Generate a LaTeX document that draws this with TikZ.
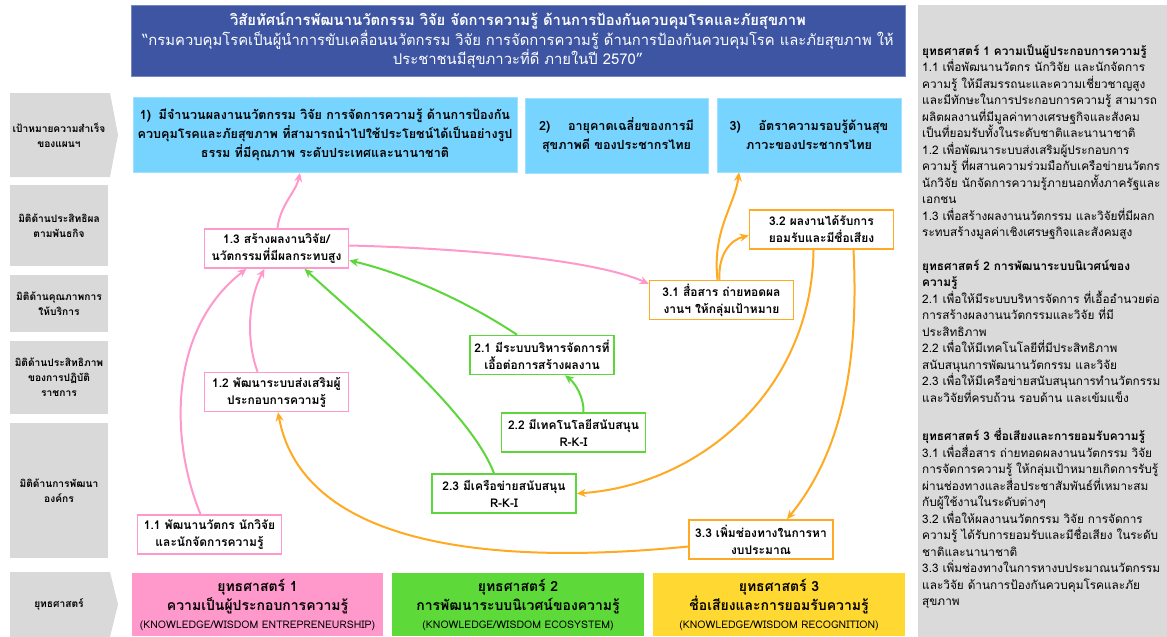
\documentclass[tikz,border=0pt]{standalone}
\usepackage{fontspec}
\setmainfont{Loma}[Script=Thai]
\usetikzlibrary{arrows.meta}

\definecolor{hdrblue}{HTML}{3D55A3}
\definecolor{goalblue}{HTML}{77D4FF}
\definecolor{lgray}{HTML}{D9D9D9}
\definecolor{pgray}{HTML}{DADADA}
\definecolor{pinkc}{HTML}{FF99CC}
\definecolor{greenc}{HTML}{5DD63C}
\definecolor{orangec}{HTML}{FFAA22}
\definecolor{s1fill}{HTML}{FF99CC}
\definecolor{s2fill}{HTML}{5DD93A}
\definecolor{s3fill}{HTML}{FFD932}

\tikzset{
  lbltext/.style={align=center, font=\bfseries\fontsize{10.2}{15}\selectfont, inner sep=0pt},
  lblbox/.style={fill=lgray, minimum width=98pt, lbltext},
  goal/.style={fill=goalblue, draw=goalblue!70!white, line width=0.6pt, align=center,
    font=\bfseries\fontsize{12.6}{19}\selectfont, inner sep=0pt},
  kbox/.style={fill=white, line width=1.5pt, minimum width=144pt, minimum height=39pt,
    align=center, inner sep=0pt, font=\bfseries\fontsize{12}{17}\selectfont},
  pbox/.style={kbox, draw=pinkc},
  gbox/.style={kbox, draw=greenc},
  obox/.style={kbox, draw=orangec},
  link/.style={line width=2pt, -{Stealth[length=9pt,width=8pt]}},
  plink/.style={link, draw=pinkc},
  glink/.style={link, draw=greenc},
  olink/.style={link, draw=orangec},
  strat/.style={minimum height=63pt, align=center, inner sep=0pt,
    font=\bfseries\fontsize{14}{19.5}\selectfont},
}
\newcommand{\engtext}[1]{{\mdseries\fontsize{10.5}{12}\selectfont #1}}

\begin{document}
\begin{tikzpicture}[x=1pt,y=-1pt]
\useasboundingbox (0,0) rectangle (1167,637);
\fill[white] (0,0) rectangle (1167,637);

% vision banner
\node[fill=hdrblue, draw=hdrblue!70!white, line width=0.6pt, minimum width=774pt,
  minimum height=71pt, align=center, text=white, inner sep=0pt,
  font=\fontsize{14.8}{19.8}\selectfont] (vision) at (518,40.5)
  {\textbf{วิสัยทัศน์การพัฒนานวัตกรรม วิจัย จัดการความรู้ ด้านการป้องกันควบคุมโรคและภัยสุขภาพ}\\
   “กรมควบคุมโรคเป็นผู้นำการขับเคลื่อนนวัตกรรม วิจัย การจัดการความรู้ ด้านการป้องกันควบคุมโรค และภัยสุขภาพ ให้\\
   ประชาชนมีสุขภาวะที่ดี ภายในปี 2570”};

% row labels on the left
\fill[lgray] (10,93) -- (110,93) -- (118,135) -- (110,177) -- (10,177) -- cycle;
\node[lbltext] (lgoal) at (59,135) {เป้าหมายความสำเร็จ\\ของแผนฯ};
\node[lblbox, minimum height=81pt] (leff) at (59,225.5) {มิติด้านประสิทธิผล\\ตามพันธกิจ};
\node[lblbox, minimum height=57pt] (lqual) at (59,303.5) {มิติด้านคุณภาพการ\\ให้บริการ};
\node[lblbox, minimum height=73pt] (lperf) at (59,377.5) {มิติด้านประสิทธิภาพ\\ของการปฏิบัติ\\ราชการ};
\node[lblbox, minimum height=135pt] (lorg) at (59,490.5) {มิติด้านการพัฒนา\\องค์กร};
\fill[lgray] (10,572) -- (110,572) -- (118,604.5) -- (110,637) -- (10,637) -- cycle;
\node[lbltext] (lstrat) at (59,604.5) {ยุทธศาสตร์};

% success goals
\node[goal, minimum width=384pt, minimum height=75pt] (g1) at (325,135)
  {1)\hspace{0.6em}มีจำนวนผลงานนวัตกรรม วิจัย การจัดการความรู้ ด้านการป้องกัน\\
   ควบคุมโรคและภัยสุขภาพ ที่สามารถนำไปใช้ประโยชน์ได้เป็นอย่างรูป\\
   ธรรม ที่มีคุณภาพ ระดับประเทศและนานาชาติ};
\node[goal, minimum width=183pt, minimum height=75pt] (g2) at (616.5,135.5)
  {2)\hspace{1.4em}อายุคาดเฉลี่ยของการมี\\สุขภาพดี ของประชากรไทย};
\node[goal, minimum width=184pt, minimum height=74pt] (g3) at (809,135)
  {3)\hspace{1.4em}อัตราความรอบรู้ด้านสุข\\ภาวะของประชากรไทย};

% strategy 1 boxes
\node[pbox] (n13) at (276.5,248.5) {1.3 สร้างผลงานวิจัย/\\นวัตกรรมที่มีผลกระทบสูง};
\node[pbox] (n12) at (276.5,392) {1.2 พัฒนาระบบส่งเสริมผู้\\ประกอบการความรู้};
\node[pbox] (n11) at (209.5,534.5) {1.1 พัฒนานวัตกร นักวิจัย\\และนักจัดการความรู้};

% strategy 2 boxes
\node[gbox] (n21) at (542,355) {2.1 มีระบบบริหารจัดการที่\\เอื้อต่อการสร้างผลงาน};
\node[gbox] (n22) at (573.5,432.5) {2.2 มีเทคโนโลยีสนับสนุน\\R-K-I};
\node[gbox] (n23) at (504,493.5) {2.3 มีเครือข่ายสนับสนุน\\R-K-I};

% strategy 3 boxes
\node[obox] (n31) at (721.5,300) {3.1 สื่อสาร ถ่ายทอดผล\\งานฯ ให้กลุ่มเป้าหมาย};
\node[obox] (n32) at (821.5,229.5) {3.2 ผลงานได้รับการ\\ยอมรับและมีชื่อเสียง};
\node[obox] (n33) at (761,539.5) {3.3 เพิ่มช่องทางในการหา\\งบประมาณ};

% pink links
\draw[plink] ([xshift=-9pt]n11.north) .. controls (170,440) and (168,330) .. ([xshift=-30pt]n13.south);
\draw[plink] ([xshift=-19pt]n12.north) .. controls (246,340) and (248,300) .. ([xshift=-12pt]n13.south);
\draw[plink] ([xshift=1pt]n13.north) .. controls (280,205) and (296,192) .. ([xshift=-25pt]g1.south);
\draw[plink] ([yshift=3pt]n13.east) .. controls (450,248) and (590,258) .. ([yshift=-4pt]n31.north west);

% green links
\draw[glink] ([xshift=-25pt]n21.north) .. controls (465,300) and (400,272) .. ([yshift=-12pt]n13.east);
\draw[glink] ([xshift=-10pt]n23.north) .. controls (470,410) and (360,320) .. ([xshift=28pt]n13.south);
\draw[glink] ([xshift=10pt]n22.north) .. controls (584,398) and (576,384) .. ([xshift=23pt]n21.south);

% orange links
\draw[olink] ([xshift=-4pt]n31.north) .. controls (712,230) and (735,205) .. ([xshift=-70pt]g3.south);
\draw[olink] ([xshift=-2pt]n31.north) .. controls (718,255) and (730,240) .. ([yshift=-6pt]n32.west);
\draw[olink] ([xshift=-8pt]n32.south) .. controls (812,390) and (700,485) .. (n23.east);
\draw[olink] ([xshift=32pt]n32.south) .. controls (860,380) and (835,460) .. ([xshift=26pt]n33.north);
\draw[olink] ([yshift=-7pt]n33.west) .. controls (450,570) and (300,530) .. ([xshift=1.5pt]n12.south);

% strategy banners
\node[strat, fill=s1fill, minimum width=251pt] (s1) at (257.5,604.5)
  {ยุทธศาสตร์ 1\\ความเป็นผู้ประกอบการความรู้\\[-2pt]\engtext{(KNOWLEDGE/WISDOM ENTREPRENEURSHIP)}};
\node[strat, fill=s2fill, minimum width=252pt] (s2) at (518,604.5)
  {ยุทธศาสตร์ 2\\การพัฒนาระบบนิเวศน์ของความรู้\\[-2pt]\engtext{(KNOWLEDGE/WISDOM ECOSYSTEM)}};
\node[strat, fill=s3fill, minimum width=252pt] (s3) at (779,604.5)
  {ยุทธศาสตร์ 3\\ชื่อเสียงและการยอมรับความรู้\\[-2pt]\engtext{(KNOWLEDGE/WISDOM RECOGNITION)}};

% strategy details panel
\fill[pgray] (918,5) rectangle (1167,637);
\node[anchor=north west, align=left, inner sep=0pt, font=\fontsize{11.8}{16.5}\selectfont] (details) at (922,44)
  {\textbf{ยุทธศาสตร์ 1 ความเป็นผู้ประกอบการความรู้}\\
   1.1 เพื่อพัฒนานวัตกร นักวิจัย และนักจัดการ\\
   ความรู้ ให้มีสมรรถนะและความเชี่ยวชาญสูง\\
   และมีทักษะในการประกอบการความรู้ สามารถ\\
   ผลิตผลงานที่มีมูลค่าทางเศรษฐกิจและสังคม\\
   เป็นที่ยอมรับทั้งในระดับชาติและนานาชาติ\\
   1.2 เพื่อพัฒนาระบบส่งเสริมผู้ประกอบการ\\
   ความรู้ ที่ผสานความร่วมมือกับเครือข่ายนวัตกร\\
   นักวิจัย นักจัดการความรู้ภายนอกทั้งภาครัฐและ\\
   เอกชน\\
   1.3 เพื่อสร้างผลงานนวัตกรรม และวิจัยที่มีผลก\\
   ระทบสร้างมูลค่าเชิงเศรษฐกิจและสังคมสูง\\[17pt]
   \textbf{ยุทธศาสตร์ 2 การพัฒนาระบบนิเวศน์ของ}\\
   \textbf{ความรู้}\\
   2.1 เพื่อให้มีระบบบริหารจัดการ ที่เอื้ออำนวยต่อ\\
   การสร้างผลงานนวัตกรรมและวิจัย ที่มี\\
   ประสิทธิภาพ\\
   2.2 เพื่อให้มีเทคโนโลยีที่มีประสิทธิภาพ\\
   สนับสนุนการพัฒนานวัตกรรม และวิจัย\\
   2.3 เพื่อให้มีเครือข่ายสนับสนุนการทำนวัตกรรม\\
   และวิจัยที่ครบถ้วน รอบด้าน และเข้มแข็ง\\[22pt]
   \textbf{ยุทธศาสตร์ 3 ชื่อเสียงและการยอมรับความรู้}\\
   3.1 เพื่อสื่อสาร ถ่ายทอดผลงานนวัตกรรม วิจัย\\
   การจัดการความรู้ ให้กลุ่มเป้าหมายเกิดการรับรู้\\
   ผ่านช่องทางและสื่อประชาสัมพันธ์ที่เหมาะสม\\
   กับผู้ใช้งานในระดับต่างๆ\\
   3.2 เพื่อให้ผลงานนวัตกรรม วิจัย การจัดการ\\
   ความรู้ ได้รับการยอมรับและมีชื่อเสียง ในระดับ\\
   ชาติและนานาชาติ\\
   3.3 เพิ่มช่องทางในการหางบประมาณนวัตกรรม\\
   และวิจัย ด้านการป้องกันควบคุมโรคและภัย\\
   สุขภาพ};
\end{tikzpicture}
\end{document}
